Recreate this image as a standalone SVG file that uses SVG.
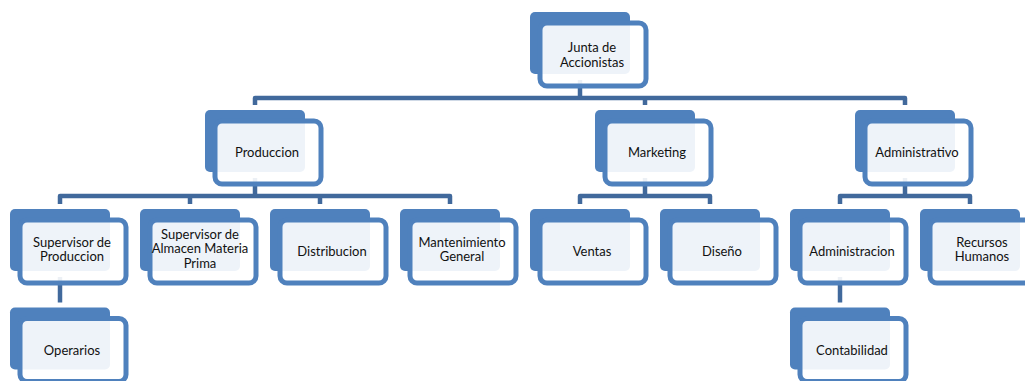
<svg xmlns="http://www.w3.org/2000/svg" width="1025" height="381" viewBox="0 0 1025 381">
  <style>
    .bg { fill: #ffffff; }
    .link { fill: none; stroke: #41699C; stroke-width: 4.5; stroke-linejoin: round; }
    .back { fill: #4F81BD; }
    .front { fill: #ffffff; fill-opacity: 0.9; stroke: #4F81BD; stroke-width: 5; }
    .label { font-family: Lato, "Open Sans", sans-serif; font-size: 13px; fill: #111111; text-anchor: middle; }
  </style>
  <defs>
    <!-- one org-chart box: solid back tab plus an outlined, translucent front card -->
    <g id="box">
      <rect class="back" x="0" y="0" width="100" height="62" rx="5"/>
      <rect class="front" x="10" y="11" width="106" height="63" rx="7"/>
    </g>
  </defs>

  <rect class="bg" x="0" y="0" width="1025" height="381"/>

  <!-- connectors (drawn first so the cards sit over them) -->
  <g id="connectors">
    <path class="link" d="M580,80 V98"/>
    <path class="link" d="M255,105 V98 H905 V105"/>
    <path class="link" d="M645,98 V105"/>

    <path class="link" d="M255,178 V196"/>
    <path class="link" d="M60,204 V196 H450 V204"/>
    <path class="link" d="M190,196 V204"/>
    <path class="link" d="M320,196 V204"/>

    <path class="link" d="M645,178 V196"/>
    <path class="link" d="M580,204 V196 H710 V204"/>

    <path class="link" d="M905,178 V196"/>
    <path class="link" d="M840,204 V196 H970 V204"/>

    <path class="link" d="M60,277 V302.5"/>
    <path class="link" d="M840,277 V302.5"/>
  </g>

  <g id="junta" transform="translate(530,12)">
    <use href="#box"/>
    <text class="label" x="62" y="40">Junta de<tspan x="62" dy="14.6">Accionistas</tspan></text>
  </g>

  <g id="produccion" transform="translate(205,110)">
    <use href="#box"/>
    <text class="label" x="62" y="47">Produccion</text>
  </g>

  <g id="marketing" transform="translate(595,110)">
    <use href="#box"/>
    <text class="label" x="62" y="47">Marketing</text>
  </g>

  <g id="administrativo" transform="translate(855,110)">
    <use href="#box"/>
    <text class="label" x="62" y="47">Administrativo</text>
  </g>

  <g id="supervisor-produccion" transform="translate(10,209)">
    <use href="#box"/>
    <text class="label" x="62" y="37.5">Supervisor de<tspan x="62" dy="14.6">Produccion</tspan></text>
  </g>

  <g id="supervisor-almacen" transform="translate(140,209)">
    <use href="#box"/>
    <text class="label" x="60" y="29.5">Supervisor de<tspan x="60" dy="14.6">Almacen Materia</tspan><tspan x="60" dy="14.6">Prima</tspan></text>
  </g>

  <g id="distribucion" transform="translate(270,209)">
    <use href="#box"/>
    <text class="label" x="62" y="47">Distribucion</text>
  </g>

  <g id="mantenimiento" transform="translate(400,209)">
    <use href="#box"/>
    <text class="label" x="62" y="37.5">Mantenimiento<tspan x="62" dy="14.6">General</tspan></text>
  </g>

  <g id="ventas" transform="translate(530,209)">
    <use href="#box"/>
    <text class="label" x="62" y="47">Ventas</text>
  </g>

  <g id="diseno" transform="translate(660,209)">
    <use href="#box"/>
    <text class="label" x="62" y="47">Diseño</text>
  </g>

  <g id="administracion" transform="translate(790,209)">
    <use href="#box"/>
    <text class="label" x="62" y="47">Administracion</text>
  </g>

  <g id="recursos-humanos" transform="translate(920,209)">
    <use href="#box"/>
    <text class="label" x="62" y="37.5">Recursos<tspan x="62" dy="14.6">Humanos</tspan></text>
  </g>

  <g id="operarios" transform="translate(10,307.5)">
    <use href="#box"/>
    <text class="label" x="62" y="47">Operarios</text>
  </g>

  <g id="contabilidad" transform="translate(790,307.5)">
    <use href="#box"/>
    <text class="label" x="62" y="47">Contabilidad</text>
  </g>
</svg>
